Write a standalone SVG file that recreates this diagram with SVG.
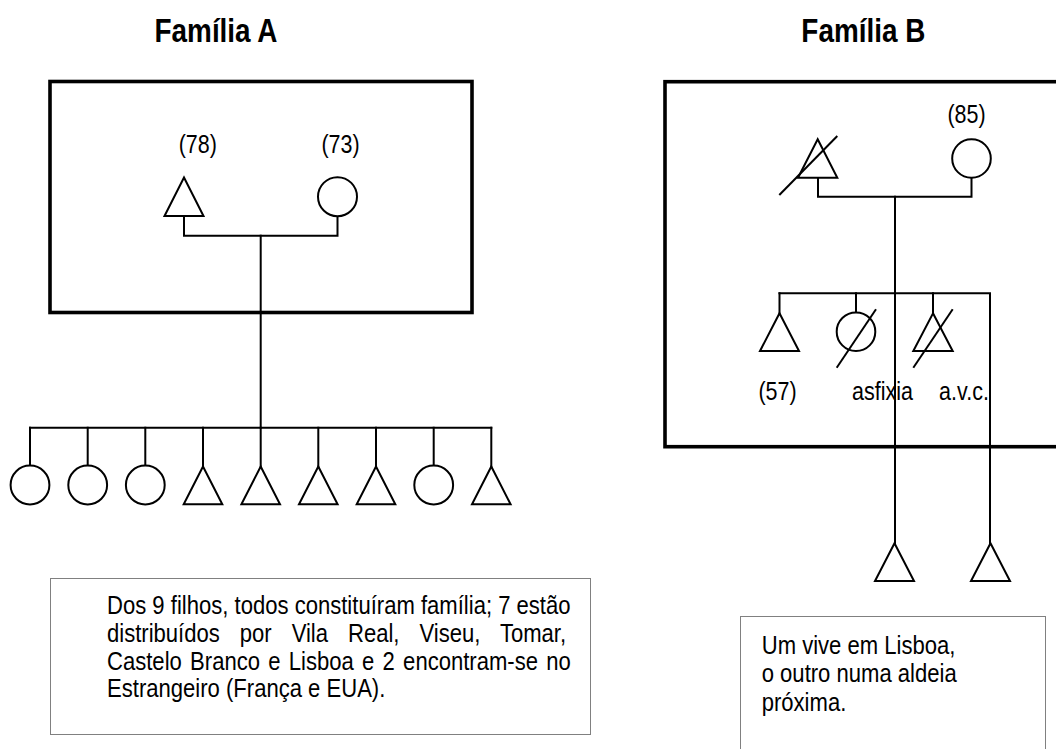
<svg xmlns="http://www.w3.org/2000/svg" width="1056" height="749" viewBox="0 0 1056 749">
<style>
.frame{fill:none;stroke:#000;stroke-width:3.6}
.note{fill:none;stroke:#000;stroke-width:1;stroke-dasharray:1 1}
.sym{fill:#fff;stroke:#000;stroke-width:2}
.strike{fill:none;stroke:#000;stroke-width:2}
.ln{fill:none;stroke:#000;stroke-width:2;stroke-linecap:square}
.title{font-family:"Liberation Sans",Arial,sans-serif;font-weight:bold;font-size:34px;fill:#000}
.lbl{font-family:"Liberation Sans",Arial,sans-serif;font-size:25.5px;fill:#000}
.txt{font-family:"Liberation Sans",Arial,sans-serif;font-size:26.5px;fill:#000}
</style>
<rect width="1056" height="749" fill="#fff"/>

<g id="titles">
<text class="title" text-anchor="middle" transform="translate(216 42) scale(0.82 1)">Família A</text>
<text class="title" text-anchor="middle" transform="translate(863.3 42) scale(0.82 1)">Família B</text>
</g>

<g id="boxA"><rect class="frame" x="50" y="81.5" width="422" height="231"/></g>
<g id="boxB"><rect class="frame" x="665" y="81.7" width="430" height="365"/></g>

<g id="connectors">
<!-- Family A -->
<path class="ln" d="M184 216V235.7H337.5V216.5"/>
<path class="ln" d="M260.7 235.7V427.7"/>
<path class="ln" d="M30 427.7H491.3" stroke-width="3"/>
<path class="ln" d="M30 427.7V465.6M87.7 427.7V465.6M145.3 427.7V465.6M203 427.7V466.5M260.7 427.7V466.5M318.3 427.7V466.5M376 427.7V466.5M433.7 427.7V465.6M491.3 427.7V466.5"/>
<!-- Family B -->
<path class="ln" d="M818 177.7V196.7H971.5V177.8"/>
<path class="ln" d="M895 196.7V543.3"/>
<path class="ln" d="M779.5 293.3H990V543.3"/>
<path class="ln" d="M779.5 293.3V313.3M856 293.3V312.4M933 293.3V313.3"/>
</g>

<g id="a-father"><path class="sym" d="M184 177.5L203.5 216H164.5Z"/><text class="lbl" text-anchor="middle" transform="translate(197.8 152.5) scale(0.843 1)">(78)</text></g>
<g id="a-mother"><circle class="sym" cx="337.5" cy="196.7" r="19.5"/><text class="lbl" text-anchor="middle" transform="translate(340.5 152.5) scale(0.843 1)">(73)</text></g>

<g id="a-child1"><circle class="sym" cx="30" cy="485" r="19.4"/></g>
<g id="a-child2"><circle class="sym" cx="87.7" cy="485" r="19.4"/></g>
<g id="a-child3"><circle class="sym" cx="145.3" cy="485" r="19.4"/></g>
<g id="a-child4"><path class="sym" d="M203 466.5L222.3 504.3H183.7Z"/></g>
<g id="a-child5"><path class="sym" d="M260.7 466.5L280 504.3H241.4Z"/></g>
<g id="a-child6"><path class="sym" d="M318.3 466.5L337.6 504.3H299Z"/></g>
<g id="a-child7"><path class="sym" d="M376 466.5L395.3 504.3H356.7Z"/></g>
<g id="a-child8"><circle class="sym" cx="433.7" cy="485" r="19.4"/></g>
<g id="a-child9"><path class="sym" d="M491.3 466.5L510.6 504.3H472Z"/></g>

<g id="noteA">
<rect class="note" x="50.5" y="578.5" width="540" height="156"/>
<text class="txt" transform="translate(107 613.5) scale(0.833 1)">Dos 9 filhos, todos constituíram família; 7 estão</text>
<text class="txt" transform="translate(107 641.5) scale(0.833 1)" word-spacing="16.6">distribuídos por Vila Real, Viseu, Tomar,</text>
<text class="txt" transform="translate(107 669.5) scale(0.833 1)" word-spacing="2.56">Castelo Branco e Lisboa e 2 encontram-se no</text>
<text class="txt" transform="translate(107 697.3) scale(0.833 1)">Estrangeiro (França e EUA).</text>
</g>

<g id="b-father"><path class="sym" d="M817.7 139.3L837.3 177.7H798Z"/><path class="strike" d="M779.3 195L837.3 136"/></g>
<g id="b-mother"><circle class="sym" cx="971.5" cy="158.5" r="19.3"/><text class="lbl" text-anchor="middle" transform="translate(966.5 122.5) scale(0.843 1)">(85)</text></g>

<g id="b-child1"><path class="sym" d="M779.5 313.3L799 351H760Z"/><text class="lbl" text-anchor="middle" transform="translate(777.5 400) scale(0.843 1)">(57)</text></g>
<g id="b-child2"><circle class="sym" cx="856" cy="331.7" r="19.3"/><path class="strike" d="M836.7 367.7L876 309.3"/><text class="lbl" text-anchor="middle" transform="translate(882.5 400) scale(0.843 1)">asfixia</text></g>
<g id="b-child3"><path class="sym" d="M933 313.3L952.7 351H913.3Z"/><path class="strike" d="M913.3 367.7L952.7 309.3"/><text class="lbl" text-anchor="middle" transform="translate(964 400) scale(0.843 1)">a.v.c.</text></g>

<g id="b-grand1"><path class="sym" d="M894.5 543.3L914 581H875Z"/></g>
<g id="b-grand2"><path class="sym" d="M990.5 543.3L1010 581H971Z"/></g>

<g id="noteB">
<rect class="note" x="740.5" y="616.5" width="305" height="150"/>
<text class="txt" transform="translate(761.7 653.5) scale(0.833 1)">Um vive em Lisboa,</text>
<text class="txt" transform="translate(761.7 682) scale(0.833 1)">o outro numa aldeia</text>
<text class="txt" transform="translate(761.7 710.5) scale(0.833 1)">próxima.</text>
</g>
</svg>
